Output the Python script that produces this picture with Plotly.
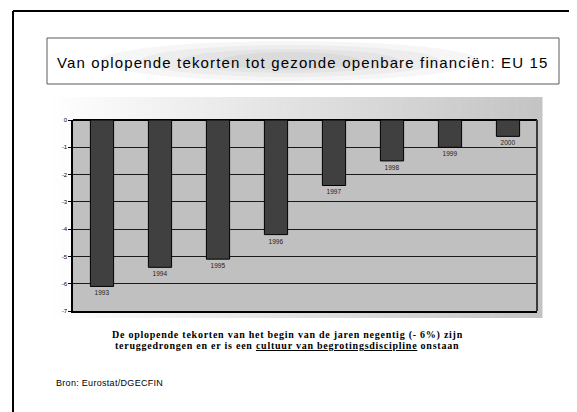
import plotly.graph_objects as go

years = ["1993", "1994", "1995", "1996", "1997", "1998", "1999", "2000"]
deficit = [-6.1, -5.4, -5.1, -4.2, -2.4, -1.5, -1.0, -0.6]
ytick_vals = [0, -1, -2, -3, -4, -5, -6, -7]
ytick_text = ["0", "-1", "-2", "-3", "-4", "-5", "-6", "-7"]

title_text = "Van oplopende tekorten tot gezonde openbare financiën: EU 15"
caption1 = "De oplopende tekorten van het begin van de jaren negentig (- 6%) zijn"
caption2 = "teruggedrongen en er is een <u>cultuur van begrotingsdiscipline</u> onstaan"
source_text = "Bron: Eurostat/DGECFIN"

OFF = 8  # page body margin
W, H = 577 - OFF, 412 - OFF
L, R, T, B = 73 - OFF, 537 - OFF, 120 - OFF, 311 - OFF


def px(x):
    return (x - OFF - L) / (R - L)


def py(y):
    return (B - (y - OFF)) / (B - T)


fig = go.Figure()
fig.add_trace(go.Bar(
    x=years, y=deficit, text=years, textposition="outside",
    textfont=dict(family="Liberation Sans, Arial", size=6.5, color="#202020"),
    marker=dict(color="#404040", line=dict(color="#000000", width=1)),
    cliponaxis=False, hoverinfo="skip",
))

shapes = []
# gradient background behind chart
n = 60
gx0, gx1, gy0, gy1 = 45, 542, 97, 318
for i in range(n):
    t = i / (n - 1)
    v = int(round(255 - (255 - 196) * t))
    shapes.append(dict(type="rect", xref="paper", yref="paper", layer="below",
                       x0=px(gx0 + (gx1 - gx0) * i / n), x1=px(gx0 + (gx1 - gx0) * (i + 1) / n + 0.5),
                       y0=py(gy1), y1=py(gy0),
                       fillcolor=f"rgb({v},{v},{v})", line=dict(width=0)))
# plot area
shapes.append(dict(type="rect", xref="paper", yref="paper", layer="below",
                   x0=0, x1=1, y0=0, y1=1, fillcolor="#c0c0c0", line=dict(width=0)))
# right edge of plot
shapes.append(dict(type="line", xref="paper", yref="paper", x0=1, x1=1, y0=0, y1=1,
                   line=dict(color="#3a3a3a", width=2)))
# outer frame (left and top)
shapes.append(dict(type="line", xref="paper", yref="paper", x0=px(13), x1=px(13), y0=py(420), y1=py(11),
                   line=dict(color="#000000", width=2)))
shapes.append(dict(type="line", xref="paper", yref="paper", x0=px(13), x1=px(590), y0=py(11), y1=py(11),
                   line=dict(color="#000000", width=2)))
# title box
shapes.append(dict(type="rect", xref="paper", yref="paper", layer="below",
                   x0=px(47), x1=px(559), y0=py(84), y1=py(38),
                   fillcolor="#ffffff", line=dict(color="#5a5a5a", width=1)))
for k, (w, h) in enumerate([(190, 20), (150, 16), (110, 12), (70, 9)]):
    shapes.append(dict(type="circle", xref="paper", yref="paper", layer="below",
                       x0=px(290 - w), x1=px(290 + w), y0=py(61 + h), y1=py(61 - h),
                       fillcolor="#000000", opacity=0.035, line=dict(width=0)))

annotations = [
    dict(text=f'<span style="letter-spacing:1.15px">{title_text}</span>', xref="paper", yref="paper",
         x=px(303), y=py(62), showarrow=False, xanchor="center", yanchor="middle",
         font=dict(family="Liberation Sans, Arial", size=15, color="#000000")),
    dict(text=f'<span style="letter-spacing:0.75px">{caption1}</span>', xref="paper", yref="paper",
         x=px(287), y=py(335), showarrow=False, xanchor="center", yanchor="middle",
         font=dict(family="Liberation Serif, Times New Roman", size=10, color="#000000", weight="bold")),
    dict(text=f'<span style="letter-spacing:0.75px">{caption2}</span>', xref="paper", yref="paper",
         x=px(287), y=py(345), showarrow=False, xanchor="center", yanchor="middle",
         font=dict(family="Liberation Serif, Times New Roman", size=10, color="#000000", weight="bold")),
    dict(text=f'<span style="letter-spacing:0.3px">{source_text}</span>', xref="paper", yref="paper",
         x=px(54), y=py(383), showarrow=False, xanchor="left", yanchor="middle",
         font=dict(family="Liberation Sans, Arial", size=9, color="#000000")),
]

fig.update_layout(
    width=W, height=H,
    margin=dict(l=L, r=W - R, t=T, b=H - B, pad=0),
    paper_bgcolor="#ffffff", plot_bgcolor="rgba(0,0,0,0)",
    showlegend=False, bargap=0.6,
    shapes=shapes, annotations=annotations,
    xaxis=dict(showticklabels=False, ticks="", showgrid=False, zeroline=False,
               showline=True, linecolor="#000000", linewidth=2),
    yaxis=dict(range=[-7, 0], tickvals=ytick_vals, ticktext=ytick_text,
               ticks="outside", ticklen=3, tickcolor="#000000", tickwidth=1,
               tickfont=dict(family="Liberation Sans, Arial", size=6, color="#000000"),
               showgrid=True, gridcolor="#1a1a1a", gridwidth=1,
               zeroline=True, zerolinecolor="#000000", zerolinewidth=2,
               showline=True, linecolor="#000000", linewidth=1.5),
)

fig.write_html("out.html")
